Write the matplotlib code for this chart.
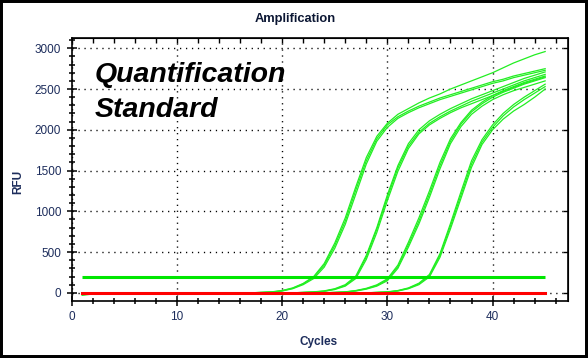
import numpy as np
import matplotlib
matplotlib.use("Agg")
import matplotlib.pyplot as plt
from matplotlib.patches import Rectangle
from matplotlib.ticker import MultipleLocator

# RFU readings per cycle (cycles 1..45)
cycles = list(range(1, 46))

# standard 1 (earliest), three replicates
std1_a = [-30, -15, -5, 0, 0, 0, 0, 0, 0, 0, 0, 0, 0, 0, 0, 0, 0,
          5, 12, 28, 60, 115, 200, 360, 610, 920, 1300, 1660, 1920, 2080, 2190, 2260,
          2330, 2390, 2440, 2500, 2550, 2600, 2650, 2700, 2760, 2820, 2870, 2920, 2960]
std1_b = [-25, -10, 0, 0, 0, 0, 0, 0, 0, 0, 0, 0, 0, 0, 0, 0, 0,
          5, 10, 25, 55, 110, 190, 340, 580, 880, 1260, 1620, 1890, 2060, 2160, 2230,
          2290, 2340, 2390, 2430, 2470, 2510, 2550, 2590, 2620, 2660, 2690, 2720, 2750]
std1_c = [-20, -10, 0, 0, 0, 0, 0, 0, 0, 0, 0, 0, 0, 0, 0, 0, 0,
          4, 9, 22, 50, 100, 175, 315, 545, 840, 1210, 1580, 1860, 2030, 2140, 2210,
          2270, 2320, 2370, 2410, 2450, 2490, 2530, 2570, 2600, 2640, 2670, 2700, 2730]

# standard 2
std2_a = [0, 0, 0, 0, 0, 0, 0, 0, 0, 0, 0, 0, 0, 0, 0, 0, 0, 0, 0, 0, 0,
          5, 12, 24, 50, 100, 205, 460, 800, 1200, 1560, 1830, 2000, 2110, 2190, 2260,
          2320, 2380, 2430, 2480, 2530, 2580, 2630, 2670, 2710]
std2_b = [0, 0, 0, 0, 0, 0, 0, 0, 0, 0, 0, 0, 0, 0, 0, 0, 0, 0, 0, 0, 0,
          5, 10, 20, 45, 90, 190, 440, 780, 1170, 1530, 1800, 1970, 2080, 2160, 2230,
          2290, 2350, 2400, 2450, 2500, 2550, 2600, 2640, 2680]
std2_c = [0, 0, 0, 0, 0, 0, 0, 0, 0, 0, 0, 0, 0, 0, 0, 0, 0, 0, 0, 0, 0,
          4, 8, 18, 40, 82, 175, 410, 740, 1130, 1490, 1770, 1950, 2060, 2140, 2210,
          2270, 2320, 2370, 2420, 2470, 2520, 2570, 2610, 2650]

# standard 3
std3_a = [0, 0, 0, 0, 0, 0, 0, 0, 0, 0, 0, 0, 0, 0, 0, 0, 0, 0, 0, 0, 0, 0, 0, 0,
          5, 12, 28, 55, 98, 172, 340, 620, 920, 1250, 1600, 1890, 2090, 2240, 2340,
          2420, 2480, 2530, 2580, 2620, 2660]
std3_b = [0, 0, 0, 0, 0, 0, 0, 0, 0, 0, 0, 0, 0, 0, 0, 0, 0, 0, 0, 0, 0, 0, 0, 0,
          5, 10, 25, 50, 90, 160, 320, 590, 880, 1210, 1560, 1860, 2070, 2220, 2320,
          2400, 2460, 2510, 2560, 2600, 2640]
std3_c = [0, 0, 0, 0, 0, 0, 0, 0, 0, 0, 0, 0, 0, 0, 0, 0, 0, 0, 0, 0, 0, 0, 0, 0,
          4, 9, 22, 45, 82, 148, 300, 560, 845, 1170, 1520, 1830, 2040, 2190, 2290,
          2370, 2430, 2480, 2520, 2560, 2600]

# standard 4 (latest)
std4_a = [0, 0, 0, 0, 0, 0, 0, 0, 0, 0, 0, 0, 0, 0, 0, 0, 0, 0, 0, 0, 0, 0, 0, 0, 0, 0, 0, 0,
          5, 12, 28, 60, 118, 225, 480, 850, 1240, 1620, 1880, 2060, 2200, 2310, 2400,
          2480, 2560]
std4_b = [0, 0, 0, 0, 0, 0, 0, 0, 0, 0, 0, 0, 0, 0, 0, 0, 0, 0, 0, 0, 0, 0, 0, 0, 0, 0, 0, 0,
          5, 10, 25, 55, 110, 210, 460, 820, 1200, 1580, 1850, 2030, 2170, 2280, 2370,
          2450, 2530]
std4_c = [0, 0, 0, 0, 0, 0, 0, 0, 0, 0, 0, 0, 0, 0, 0, 0, 0, 0, 0, 0, 0, 0, 0, 0, 0, 0, 0, 0,
          4, 9, 22, 50, 100, 195, 435, 785, 1160, 1540, 1820, 2000, 2130, 2230, 2310,
          2400, 2500]

# no template control
ntc = [0, 0, 0, 0, 0, 0, 0, 0, 0, 0, 0, 0, 0, 0, 0, 0, 0, 0, 0, 0, 0, 0, 0,
       0, 0, 0, 0, 0, 0, 0, 0, 0, 0, 0, 0, 0, 0, 0, 0, 0, 0, 0, 0, 0, 0]

threshold = 200

wells = [std1_a, std1_b, std1_c, std2_a, std2_b, std2_c,
         std3_a, std3_b, std3_c, std4_a, std4_b, std4_c]

plt.rcParams['font.family'] = ['Liberation Sans', 'DejaVu Sans']
navy = '#1d2d5c'

fig = plt.figure(figsize=(5.88, 3.58), dpi=100)
ax = fig.add_axes([0.122, 0.160, 0.8445, 0.7347])

for w in wells:
    ax.plot(cycles, w, color='#22ee22', lw=0.9, zorder=3)
ax.hlines(threshold, cycles[0], cycles[-1], color='#00e600', lw=2.2, zorder=4)
ax.plot(cycles, ntc, color='#ff0000', lw=2.2, zorder=5)

ax.set_xlim(0, 47.2)
ax.set_ylim(-97, 3130)
ax.xaxis.set_major_locator(MultipleLocator(10))
ax.xaxis.set_minor_locator(MultipleLocator(2))
ax.yaxis.set_major_locator(MultipleLocator(500))
ax.yaxis.set_minor_locator(MultipleLocator(100))

ax.grid(True, which='major', color='black', lw=1.0, linestyle=(0, (0.9, 3.4)))
ax.tick_params(which='major', direction='inout', length=7.2, width=1.1,
               labelsize=8.5, labelcolor=navy, pad=4)
ax.tick_params(which='minor', direction='inout', length=4.3, width=1.1)
for s in ax.spines.values():
    s.set_linewidth(1.2)

top = ax.secondary_xaxis('top')
top.xaxis.set_major_locator(MultipleLocator(10))
top.xaxis.set_minor_locator(MultipleLocator(2))
top.tick_params(which='both', direction='in', length=3.5, width=1.0, labeltop=False)
right = ax.secondary_yaxis('right')
right.yaxis.set_major_locator(MultipleLocator(500))
right.yaxis.set_minor_locator(MultipleLocator(100))
right.tick_params(which='major', direction='in', length=3.5, width=1.0, labelright=False)
right.tick_params(which='minor', length=0)

ax.set_xlabel('Cycles', fontsize=8.5, fontweight='bold', color=navy)
ax.set_ylabel('RFU', fontsize=8.5, fontweight='bold', color=navy)
ax.xaxis.set_label_coords(0.498, -0.133)
ax.yaxis.set_label_coords(-0.096, 0.45)

fig.text(295 / 588, 1 - 19 / 358, 'Amplification', ha='center', va='center',
         fontsize=9.3, fontweight='bold', color='#0b1633')

fig.text(95 / 588, 1 - 81.7 / 358, 'Quantification', fontsize=20.5,
         fontweight='bold', fontstyle='italic', color='black', va='baseline')
fig.text(95 / 588, 1 - 116.7 / 358, 'Standard', fontsize=20.5,
         fontweight='bold', fontstyle='italic', color='black', va='baseline')

fig.add_artist(Rectangle((0, 0), 1, 1, transform=fig.transFigure, fill=False,
                         lw=4.3, edgecolor='black'))

fig.savefig('out.png', dpi=100)
